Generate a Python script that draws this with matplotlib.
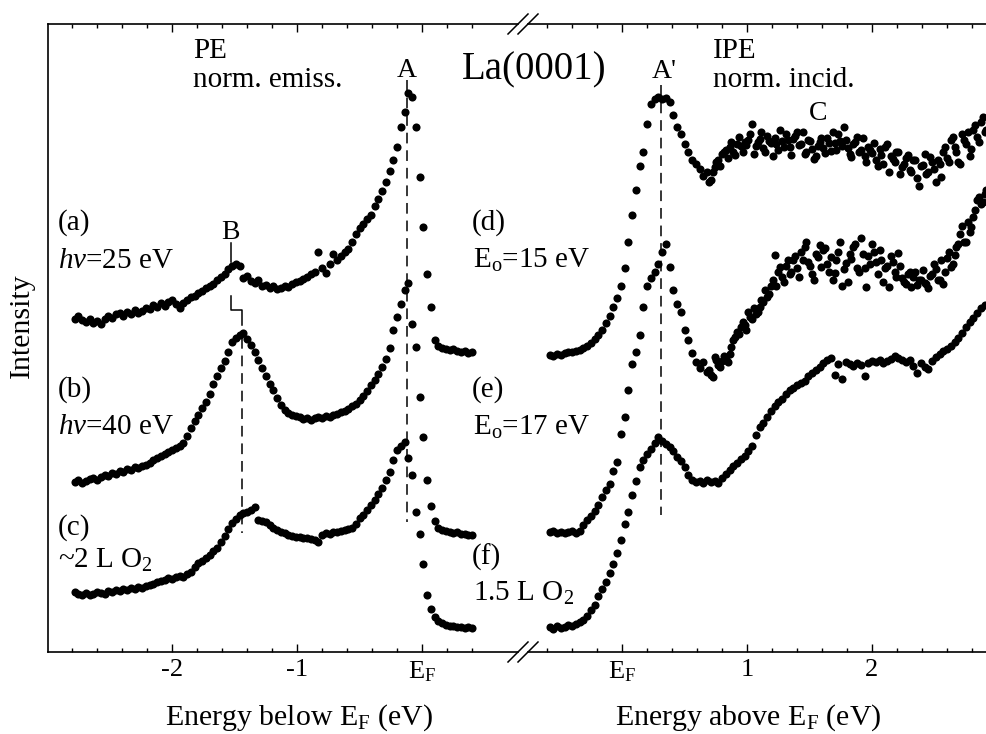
import numpy as np
import matplotlib
matplotlib.use('Agg')
import matplotlib.pyplot as plt
from matplotlib.lines import Line2D

plt.rcParams['font.family'] = ['Liberation Serif', 'DejaVu Serif']
plt.rcParams['mathtext.fontset'] = 'custom'
plt.rcParams['mathtext.rm'] = 'Liberation Serif'
plt.rcParams['mathtext.it'] = 'Liberation Serif:italic'
plt.rcParams['mathtext.bf'] = 'Liberation Serif:bold'

# ---------------- data (energies in eV, intensity in arbitrary units) -------------
I_a = [333, 336, 332, 330, 333, 329, 331, 328, 333, 336,
       334, 338, 339, 336, 340, 338, 342, 339, 341, 344,
       343, 347, 345, 349, 346, 350, 352, 348, 344, 349,
       352, 355, 356, 359, 361, 364, 366, 368, 372, 375,
       378, 383, 386, 388, 386, 374, 376, 371, 369, 372,
       366, 367, 364, 366, 363, 364, 366, 365, 368, 370,
       371, 373, 375, 378, 380, 400, 384, 379, 388, 398,
       392, 396, 400, 403, 410, 418, 424, 428, 433, 437,
       446, 453, 461, 470, 481, 492, 505, 525, 540, 559,
       555, 525, 475, 425, 378, 345, 312, 306, 304, 303,
       302, 303, 301, 300, 301, 299, 300]

I_b = [170, 172, 169, 171, 173, 174, 172, 175, 177, 176,
       179, 178, 181, 180, 183, 182, 185, 184, 186, 187,
       189, 192, 194, 196, 198, 200, 202, 204, 206, 209,
       216, 224, 231, 237, 244, 250, 258, 268, 276, 284,
       291, 300, 310, 314, 317, 319, 313, 307, 300, 292,
       284, 276, 268, 262, 254, 247, 242, 239, 237, 236,
       235, 233, 234, 232, 234, 235, 234, 236, 235, 237,
       238, 240, 241, 243, 246, 248, 252, 256, 261, 267,
       272, 278, 285, 293, 304, 322, 335, 348, 362, 369,
       328, 305, 255, 215, 172, 146, 131, 124, 122, 121,
       120, 119, 120, 118, 118, 117, 117]

I_c = [60, 58, 57, 59, 57, 58, 60, 59, 58, 61,
       60, 62, 61, 63, 62, 64, 63, 65, 64, 66,
       67, 68, 70, 71, 72, 74, 73, 75, 76, 75,
       78, 80, 85, 89, 91, 94, 97, 101, 104, 110,
       116, 123, 129, 133, 137, 139, 140, 142, 145, 132,
       131, 130, 127, 124, 122, 120, 119, 117, 116, 115,
       115, 114, 114, 113, 112, 110, 117, 119, 118, 120,
       120, 121, 122, 123, 124, 128, 134, 137, 142, 147,
       152, 158, 164, 172, 180, 192, 202, 206, 210, 194,
       177, 140, 118, 88, 57, 43, 35, 31, 29, 27,
       26, 26, 25, 25, 24, 25, 24]

I_d = [297, 296, 298, 297, 299, 300, 300, 301, 302, 304,
       306, 309, 313, 317, 322, 329, 336, 345, 354, 366,
       384, 410, 437, 462, 486, 500, 528, 548, 553, 555,
       553, 554, 550, 537, 525, 518, 508, 500, 492, 488,
       483, 476, 480, 472, 485, 492, 498, 502, 505, 500,
       508, 506, 510, 512, 528, 506, 513, 504, 516, 509,
       514, 502, 511, 518, 505, 513, 520, 508, 498, 512,
       503, 496, 510, 504, 514, 501, 509, 518, 506, 512,
       498, 508, 515, 502, 496, 505, 499, 492, 503, 488,
       508, 496, 490, 500, 485, 494, 482, 492, 474, 486,
       498, 480, 490, 470, 488, 500, 494, 512, 505, 490,
       518, 508, 496, 522, 515, 530, 520]

# second (interleaved) scan of (d), from 0.695 eV
I_d2 = [470, 480, 490, 486, 500, 494, 510, 497, 515, 500,
        507, 518, 498, 510, 520, 500, 511, 496, 508, 522,
        505, 512, 497, 516, 507, 520, 500, 511, 493, 506,
        514, 499, 509, 520, 502, 511, 525, 504, 495, 510,
        500, 514, 490, 502, 509, 486, 497, 505, 480, 493,
        500, 478, 488, 497, 480, 492, 466, 487, 478, 495,
        483, 492, 475, 505, 490, 515, 500, 488, 512, 520,
        503, 527, 510, 535, 522]

I_e = [120, 121, 119, 120, 119, 120, 121, 119, 121, 127,
       132, 136, 141, 147, 155, 162, 168, 181, 190, 218,
       235, 262, 288, 300, 317, 345, 366, 374, 380, 388,
       400, 408, 385, 362, 348, 340, 322, 312, 299, 290,
       284, 290, 280, 277, 295, 287, 291, 293, 298, 312,
       320, 325, 327, 340, 333, 338, 345, 350, 355, 366,
       397, 380, 375, 386, 378, 392, 384, 400, 405, 390,
       378, 398, 407, 402, 388, 395, 379, 400, 366, 389,
       398, 405, 384, 414, 384, 396, 408, 390, 402, 370,
       386, 396, 380, 399, 374, 368, 380, 375, 367, 372,
       369, 364, 378, 383, 372, 368, 394, 385, 397, 408,
       426, 410, 420, 435, 452, 448, 458]

# second (interleaved) scan of (e), from 0.695 eV
I_e2 = [282, 275, 292, 285, 296, 290, 305, 315, 318, 330,
        322, 335, 344, 340, 352, 362, 358, 372, 366, 385,
        370, 392, 380, 396, 375, 392, 410, 386, 372, 395,
        385, 404, 380, 372, 392, 410, 383, 370, 393, 408,
        380, 398, 365, 388, 400, 378, 392, 384, 365, 390,
        375, 386, 370, 378, 365, 380, 372, 382, 368, 376,
        388, 372, 392, 380, 400, 388, 405, 418, 410, 430,
        425, 442, 455, 450, 462]

I_f = [25, 23, 26, 24, 25, 27, 26, 28, 30, 32,
       36, 42, 47, 56, 63, 70, 79, 88, 99, 112,
       128, 140, 157, 171, 185, 192, 198, 203, 209, 215,
       211, 208, 205, 201, 195, 191, 185, 177, 172, 170,
       171, 169, 172, 170, 171, 169, 174, 178, 182, 186,
       189, 193, 196, 201, 206, 217, 225, 229, 235, 241,
       246, 250, 253, 258, 262, 264, 267, 269, 271, 276,
       279, 282, 285, 289, 292, 294, 277, 288, 273, 290,
       288, 286, 289, 287, 276, 289, 291, 290, 292, 289,
       291, 293, 296, 294, 292, 290, 292, 286, 279, 289,
       285, 283, 291, 295, 298, 301, 303, 306, 310, 314,
       319, 325, 330, 334, 339, 344, 347]

# measurement grids (PE: energy below EF, IPE: energy above EF), 0.03 eV steps
E_pe = np.round(-2.78 + 0.03 * np.arange(len(I_a)), 3)
E_ipe = np.round(-0.58 + 0.03 * np.arange(len(I_d)), 3)
E_ipe2 = np.round(0.695 + 0.03 * np.arange(len(I_d2)), 3)
E_ipe3 = np.round(0.695 + 0.03 * np.arange(len(I_e2)), 3)

# peak markers (energy, intensity range)
A_line_E, A_line_I = -0.12, (572, 130)
Ap_line_E, Ap_line_I = 0.31, (567, 137)
B_top_E, B_top_I = -1.525, (409, 390)
B_step_E = [-1.525, -1.525, -1.437, -1.437]
B_step_I = [356, 342, 342, 327]
B_line_E, B_line_I = -1.437, (314, 119)

pe_major = [-2, -1, 0]
pe_major_labels = ['-2', '-1', r'E$_\mathrm{F}$']
ipe_major = [0, 1, 2]
ipe_major_labels = [r'E$_\mathrm{F}$', '1', '2']

# ---------------- layout ----------------
W, H = 987, 734
fig = plt.figure(figsize=(W / 100, H / 100), dpi=100)
X0, XB, X1 = 48, 522, 987
YT, YB = 24, 652
axl = fig.add_axes([X0 / W, 1 - YB / H, (XB - X0) / W, (YB - YT) / H])
axr = fig.add_axes([XB / W, 1 - YB / H, (X1 - XB) / W, (YB - YT) / H])

xl = (-2.992, 0.8)
xr = (-0.8, 2.92)
axl.set_xlim(*xl)
axr.set_xlim(*xr)
for ax in (axl, axr):
    ax.set_ylim(0, 628)
    ax.set_yticks([])
    ax.patch.set_alpha(0)
    for s in ax.spines.values():
        s.set_linewidth(1.2)

ms = 34
for I in (I_a, I_b, I_c):
    axl.scatter(E_pe, I, s=ms, c='black', linewidths=0, zorder=3)
for I in (I_d, I_e, I_f):
    axr.scatter(E_ipe, I, s=ms, c='black', linewidths=0, zorder=3)
axr.scatter(E_ipe2, I_d2, s=ms, c='black', linewidths=0, zorder=3)
axr.scatter(E_ipe3, I_e2, s=ms, c='black', linewidths=0, zorder=3)

dash = dict(color='black', lw=1.1, linestyle=(0, (7, 4.5)))
axl.plot([A_line_E, A_line_E], A_line_I, **dash)
axl.plot([B_line_E, B_line_E], B_line_I, **dash)
axr.plot([Ap_line_E, Ap_line_E], Ap_line_I, **dash)
axl.plot([B_top_E, B_top_E], B_top_I, color='black', lw=1.1)
axl.plot(B_step_E, B_step_I, color='black', lw=1.1)

# spines / ticks
axl.spines['right'].set_visible(False)
axr.spines['left'].set_visible(False)
axr.spines['right'].set_visible(False)
lb = (518 - 422) / 125.0
rb = (528 - 622) / 125.0
for sp in ('top', 'bottom'):
    axl.spines[sp].set_bounds(xl[0], lb)
    axr.spines[sp].set_bounds(rb, xr[1])

axl.set_xticks(pe_major)
axl.set_xticklabels(pe_major_labels)
axl.set_xticks(np.round(np.arange(-2.8, 0.41, 0.2), 1), minor=True)
axr.set_xticks(ipe_major)
axr.set_xticklabels(ipe_major_labels)
axr.set_xticks(np.round(np.arange(-0.6, 2.81, 0.2), 1), minor=True)
for ax in (axl, axr):
    ax.tick_params(axis='x', which='both', direction='in', top=True, bottom=True,
                   width=1.0, labelsize=19, pad=5)
    ax.tick_params(axis='x', which='major', length=5.5)
    ax.tick_params(axis='x', which='minor', length=3)
    ax.tick_params(axis='y', which='both', left=False, right=False)

# axis labels
axl.set_xlabel(r'Energy below E$_\mathrm{F}$ (eV)', fontsize=21.5)
axl.xaxis.set_label_coords((299 - X0) / (XB - X0), (YB - 725) / (YB - YT))
axl.xaxis.label.set_va('baseline')
axr.set_xlabel(r'Energy above E$_\mathrm{F}$ (eV)', fontsize=21.5)
axr.xaxis.set_label_coords((748 - XB) / (X1 - XB), (YB - 725) / (YB - YT))
axr.xaxis.label.set_va('baseline')
axl.set_ylabel('Intensity', fontsize=21.5)
axl.yaxis.set_label_coords((22 - X0) / (XB - X0), (YB - 326) / (YB - YT))
axl.yaxis.label.set_va('center')

# break marks
for yc in (YT, YB):
    for xc in (518, 528):
        fig.add_artist(Line2D([(xc - 10) / W, (xc + 10) / W],
                              [1 - (yc + 10) / H, 1 - (yc - 10) / H],
                              color='black', lw=1.1, transform=fig.transFigure))


def ftext(x, y, s, size, ha='left', **kw):
    fig.text(x / W, 1 - y / H, s, fontsize=size, ha=ha, va='baseline', **kw)


ftext(193, 58, 'PE', 21)
ftext(193, 87, 'norm. emiss.', 21)
ftext(713, 58, 'IPE', 21)
ftext(713, 87, 'norm. incid.', 21)
ftext(534, 79, 'La(0001)', 28, ha='center')
ftext(407, 77, 'A', 20, ha='center')
ftext(664, 78, "A'", 20, ha='center')
ftext(230, 239, 'B', 20, ha='center')
ftext(818, 120, 'C', 20, ha='center')

ftext(58, 230, '(a)', 21)
ftext(58, 268, r'$h\nu$=25 eV', 21)
ftext(58, 397, '(b)', 21)
ftext(58, 434, r'$h\nu$=40 eV', 21)
ftext(58, 535, '(c)', 21)
ftext(58, 568, r'~2 L O$_2$', 21)
ftext(472, 230, '(d)', 21)
ftext(473, 268, r'E$_\mathrm{o}$=15 eV', 21)
ftext(472, 397, '(e)', 21)
ftext(473, 435, r'E$_\mathrm{o}$=17 eV', 21)
ftext(472, 565, '(f)', 21)
ftext(473, 601, r'1.5 L O$_2$', 21)

fig.savefig('out.png', dpi=100)
